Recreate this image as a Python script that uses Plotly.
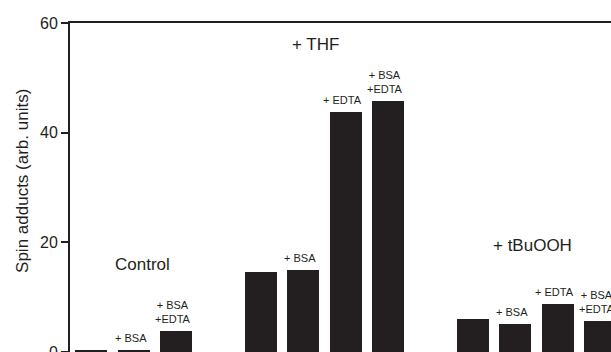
import plotly.graph_objects as go

# Data
positions = [0, 1, 2, 4, 5, 6, 7, 9, 10, 11, 12]
values = [0.3, 0.3, 3.9, 14.5, 14.9, 43.7, 45.8, 6.0, 5.1, 8.7, 5.6]
bar_labels = ["", "+ BSA", "+ BSA<br>+EDTA",
              "", "+ BSA", "+ EDTA", "+ BSA<br>+EDTA",
              "", "+ BSA", "+ EDTA", "+ BSA<br>+EDTA"]
group_names = ["Control", "+ THF", "+ tBuOOH"]
group_x = [1.2, 5.3, 10.4]
group_y = [16.0, 56.0, 19.5]
y_ticks = [0, 20, 40, 60]
y_title = "Spin adducts (arb. units)"

INK = "#231f20"
FONT = "Liberation Sans, Arial, Helvetica, sans-serif"

fig = go.Figure()
fig.add_trace(go.Bar(
    x=positions, y=values, width=0.755,
    marker=dict(color=INK, line=dict(width=0)),
    hoverinfo="skip", showlegend=False,
))

annotations = []
for xp, v, lab in zip(positions, values, bar_labels):
    if lab:
        annotations.append(dict(
            x=xp, y=v, xref="x", yref="y", text=lab, showarrow=False,
            yanchor="bottom", xanchor="center", yshift=4, xshift=-3,
            font=dict(family=FONT, size=11, color=INK), align="center",
        ))
for gx, gy, name in zip(group_x, group_y, group_names):
    annotations.append(dict(
        x=gx, y=gy, xref="x", yref="y", text=name, showarrow=False,
        xanchor="center", yanchor="middle",
        font=dict(family=FONT, size=17, color=INK),
    ))
annotations.append(dict(
    x=0, y=0.52, xref="paper", yref="paper", text=y_title, showarrow=False,
    textangle=-90, xshift=-47, xanchor="center", yanchor="middle",
    font=dict(family=FONT, size=17, color=INK),
))

fig.update_layout(
    width=611, height=352,
    margin=dict(l=70, r=0, t=23, b=0, autoexpand=False),
    paper_bgcolor="white", plot_bgcolor="white",
    bargap=0,
    annotations=annotations,
    xaxis=dict(
        range=[-0.5, 12.26], side="top", automargin=False,
        showline=True, linecolor=INK, linewidth=1.5,
        showticklabels=False, ticks="", showgrid=False, zeroline=False,
    ),
    yaxis=dict(
        range=[0, 60], tickvals=y_ticks, automargin=False,
        showline=True, linecolor=INK, linewidth=2,
        ticks="outside", ticklen=7, tickwidth=1.5, tickcolor=INK,
        tickfont=dict(family=FONT, size=16, color=INK),
        ticklabeloverflow="allow",
        showgrid=False, zeroline=False,
    ),
)

fig.write_html(
    "out.html",
    config={"displayModeBar": False},
    post_script="document.body.style.margin='0';document.body.style.overflow='hidden';",
)
